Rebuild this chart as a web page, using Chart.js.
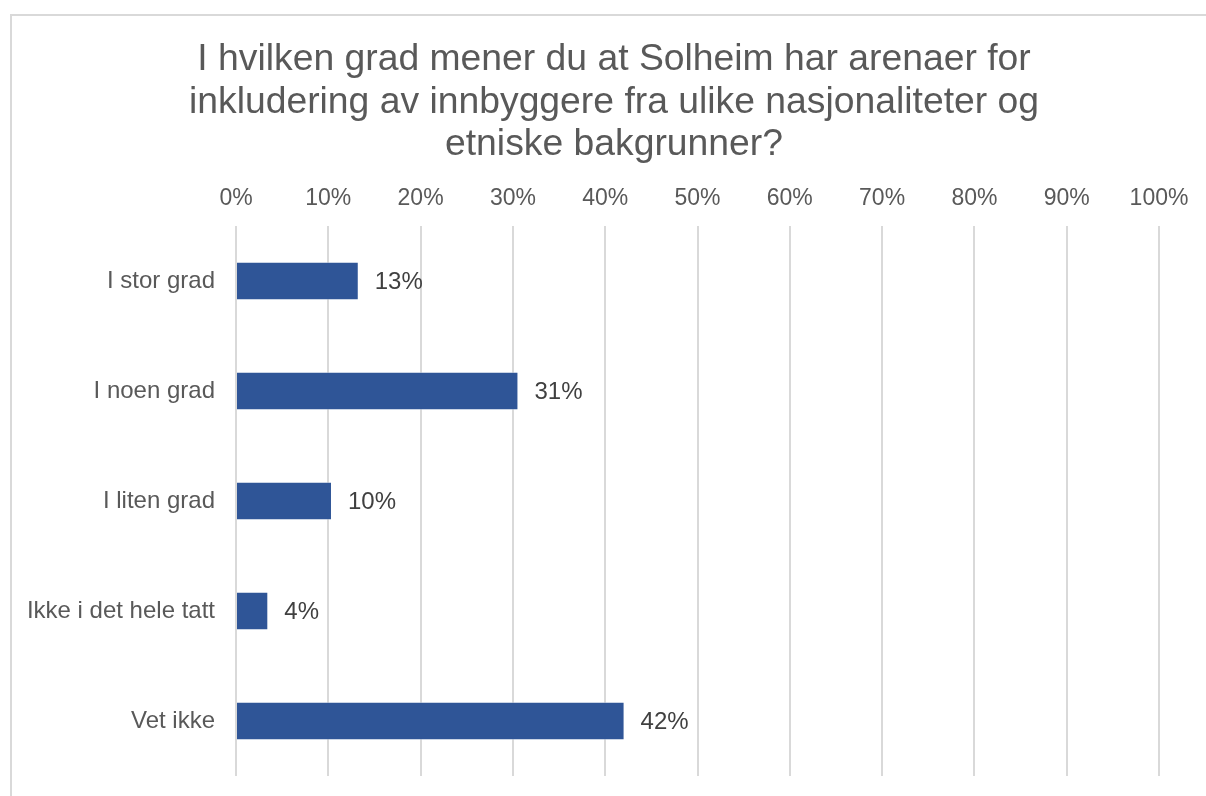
<!DOCTYPE html>
<html>
<head>
<meta charset="utf-8">
<script src="https://cdn.jsdelivr.net/npm/chart.js@4"></script>
<style>
  html, body { margin: 0; padding: 0; background: #ffffff; }
  #wrap { position: relative; width: 1206px; height: 796px; }
</style>
</head>
<body>
<div id="wrap"><canvas id="c" width="1206" height="796"></canvas></div>
<script>
const titleLines = [
  "I hvilken grad mener du at Solheim har arenaer for",
  "inkludering av innbyggere fra ulike nasjonaliteter og",
  "etniske bakgrunner?"
];
const categories = ["I stor grad", "I noen grad", "I liten grad", "Ikke i det hele tatt", "Vet ikke"];
const values = [13.3, 30.6, 10.4, 3.5, 42.1];
const valueLabels = ["13%", "31%", "10%", "4%", "42%"];
const tickValues = [0, 10, 20, 30, 40, 50, 60, 70, 80, 90, 100];

const FONT = "'Liberation Sans', Arial, sans-serif";

const frameAndTitle = {
  id: 'frameAndTitle',
  beforeDraw(chart) {
    const ctx = chart.ctx;
    ctx.save();
    ctx.fillStyle = '#ffffff';
    ctx.fillRect(0, 0, chart.width, chart.height);
    ctx.strokeStyle = '#d9d9d9';
    ctx.lineWidth = 2;
    ctx.beginPath();
    ctx.moveTo(11, chart.height);
    ctx.lineTo(11, 15);
    ctx.lineTo(chart.width, 15);
    ctx.stroke();
    ctx.fillStyle = '#595959';
    ctx.font = "37.3px " + FONT;
    ctx.textAlign = 'center';
    ctx.textBaseline = 'alphabetic';
    const baselines = [70, 112.5, 155];
    titleLines.forEach((t, i) => ctx.fillText(t, 614, baselines[i]));
    ctx.restore();
  }
};

const valueLabelPlugin = {
  id: 'valueLabelPlugin',
  afterDatasetsDraw(chart) {
    const ctx = chart.ctx;
    const meta = chart.getDatasetMeta(0);
    ctx.save();
    ctx.fillStyle = '#404040';
    ctx.font = "24px " + FONT;
    ctx.textAlign = 'left';
    ctx.textBaseline = 'middle';
    meta.data.forEach((bar, i) => {
      ctx.fillText(valueLabels[i], bar.x + 16, bar.y + 1);
    });
    ctx.restore();
  }
};

new Chart(document.getElementById('c'), {
  type: 'bar',
  data: {
    labels: categories,
    datasets: [{
      data: values,
      backgroundColor: '#2F5597',
      borderColor: 'rgba(255,255,255,0.55)',
      borderWidth: 1,
      categoryPercentage: 1.0,
      barPercentage: 0.35
    }]
  },
  options: {
    indexAxis: 'y',
    responsive: false,
    animation: false,
    devicePixelRatio: 1,
    layout: { padding: { left: 0, top: 170, right: 47, bottom: 20 } },
    plugins: {
      legend: { display: false },
      title: { display: false },
      tooltip: { enabled: false }
    },
    scales: {
      x: {
        position: 'top',
        min: 0,
        max: 100,
        afterBuildTicks(scale) {
          scale.ticks = tickValues.map(v => ({ value: v }));
        },
        afterFit(scale) { scale.height = 56; },
        ticks: {
          callback: v => v + '%',
          color: '#595959',
          font: { family: FONT, size: 23 },
          padding: 14,
          maxRotation: 0,
          autoSkip: false
        },
        grid: { color: '#d9d9d9', lineWidth: 2, drawTicks: false },
        border: { display: false }
      },
      y: {
        afterFit(scale) {
          scale.width = 236;
          scale.paddingTop = 0;
          scale.paddingBottom = 0;
        },
        ticks: {
          color: '#595959',
          font: { family: FONT, size: 24 },
          padding: 21
        },
        grid: { display: false, drawTicks: false },
        border: { display: false }
      }
    }
  },
  plugins: [frameAndTitle, valueLabelPlugin]
});
</script>
</body>
</html>
